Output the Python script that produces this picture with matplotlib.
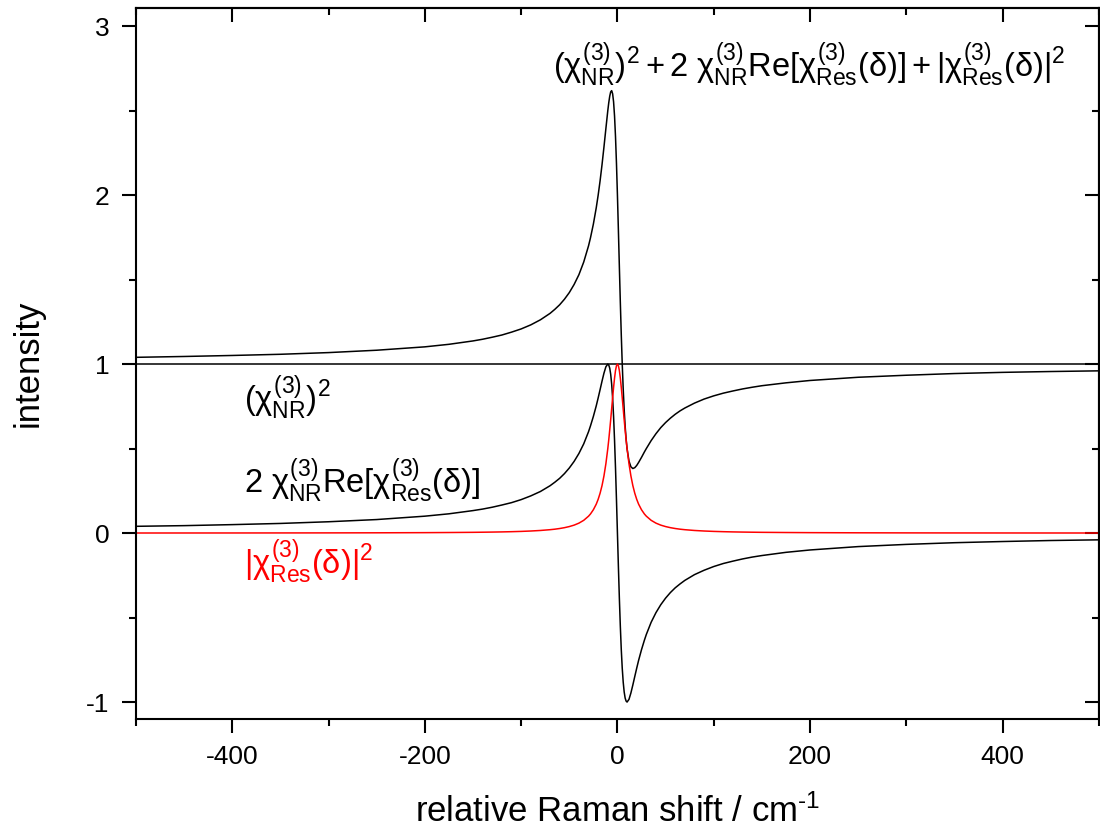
import numpy as np
import matplotlib
matplotlib.use("Agg")
import matplotlib.pyplot as plt
from matplotlib.ticker import MultipleLocator

# --- values ---
shift = [-500, -450, -400, -350, -300, -250, -200, -175, -150, -140, -130,
         -120, -110, -100, -90, -80, -70, -65, -60, -55, -50, -45, -40, -35,
         -30, -28, -25, -22, -20, -18, -16, -14, -12, -10, -9, -8, -7, -6,
         -5, -4, -3, -2, -1, 0, 1, 2, 3, 4, 5, 6, 7, 8, 9, 10, 12, 14, 16,
         18, 20, 22, 25, 28, 30, 35, 40, 45, 50, 55, 60, 65, 70, 80, 90, 100,
         110, 120, 130, 140, 150, 175, 200, 250, 300, 350, 400, 450, 500]

# |chi_Res(delta)|^2  (red)
res_sq = [0.0004, 0.0005, 0.0006, 0.0008, 0.0011, 0.0016, 0.0025, 0.0033,
          0.0044, 0.0051, 0.0059, 0.0069, 0.0082, 0.0099, 0.0122, 0.0154,
          0.020, 0.023, 0.027, 0.032, 0.0385, 0.047, 0.0588, 0.0755, 0.100,
          0.113, 0.138, 0.171, 0.200, 0.236, 0.281, 0.338, 0.410, 0.500,
          0.552, 0.610, 0.671, 0.735, 0.800, 0.862, 0.917, 0.962, 0.990,
          1.000,
          0.990, 0.962, 0.917, 0.862, 0.800, 0.735, 0.671, 0.610, 0.552,
          0.500, 0.410, 0.338, 0.281, 0.236, 0.200, 0.171, 0.138, 0.113,
          0.100, 0.0755, 0.0588, 0.047, 0.0385, 0.032, 0.027, 0.023, 0.020,
          0.0154, 0.0122, 0.0099, 0.0082, 0.0069, 0.0059, 0.0051, 0.0044,
          0.0033, 0.0025, 0.0016, 0.0011, 0.0008, 0.0006, 0.0005, 0.0004]

# 2 chi_NR Re[chi_Res(delta)]  (black, dispersive)
cross_term = [0.040, 0.044, 0.050, 0.057, 0.067, 0.080, 0.100, 0.114, 0.133,
              0.142, 0.153, 0.166, 0.180, 0.198, 0.220, 0.246, 0.280, 0.301,
              0.324, 0.352, 0.385, 0.424, 0.471, 0.528, 0.600, 0.634, 0.690,
              0.753, 0.800, 0.849, 0.899, 0.946, 0.984, 1.000, 0.994, 0.976,
              0.940, 0.882, 0.800, 0.690, 0.550, 0.385, 0.198,
              0.000,
              -0.198, -0.385, -0.550, -0.690, -0.800, -0.882, -0.940, -0.976,
              -0.994, -1.000, -0.984, -0.946, -0.899, -0.849, -0.800, -0.753,
              -0.690, -0.634, -0.600, -0.528, -0.471, -0.424, -0.385, -0.352,
              -0.324, -0.301, -0.280, -0.246, -0.220, -0.198, -0.180, -0.166,
              -0.153, -0.142, -0.133, -0.114, -0.100, -0.080, -0.067, -0.057,
              -0.050, -0.044, -0.040]

# total CARS signal (black)
total = [1.040, 1.045, 1.051, 1.058, 1.068, 1.082, 1.102, 1.117, 1.137, 1.147,
         1.159, 1.172, 1.189, 1.208, 1.232, 1.262, 1.300, 1.324, 1.351, 1.384,
         1.423, 1.471, 1.529, 1.604, 1.700, 1.747, 1.828, 1.925, 2.000, 2.085,
         2.180, 2.284, 2.393, 2.500, 2.547, 2.585, 2.611, 2.618, 2.600, 2.552,
         2.468, 2.346, 2.188,
         2.000,
         1.792, 1.577, 1.367, 1.172, 1.000, 0.853, 0.731, 0.634, 0.558, 0.500,
         0.426, 0.392, 0.382, 0.387, 0.400, 0.418, 0.448, 0.480, 0.500, 0.547,
         0.588, 0.624, 0.654, 0.680, 0.703, 0.723, 0.740, 0.769, 0.793, 0.812,
         0.828, 0.841, 0.853, 0.863, 0.872, 0.889, 0.903, 0.922, 0.934, 0.944,
         0.951, 0.956, 0.960]

# (chi_NR)^2  (flat line)
nr_x = [-500, 500]
nr_y = [1.0, 1.0]

assert len(shift) == len(res_sq) == len(cross_term) == len(total)

plt.rcParams['font.family'] = ['Liberation Sans', 'DejaVu Sans']
plt.rcParams['mathtext.fontset'] = 'custom'
plt.rcParams['mathtext.rm'] = 'Liberation Sans'
plt.rcParams['mathtext.it'] = 'Liberation Sans'
plt.rcParams['mathtext.bf'] = 'Liberation Sans:bold'
plt.rcParams['axes.unicode_minus'] = False

fig = plt.figure(figsize=(11, 8.36), dpi=100)
ax = fig.add_axes([0.1236, 0.140, 0.8754, 0.8504])

lw = 1.1
ax.plot(nr_x, nr_y, color='black', lw=lw)
ax.plot(shift, total, color='black', lw=lw)
ax.plot(shift, cross_term, color='black', lw=lw)
ax.plot(shift, res_sq, color='red', lw=lw)

ax.set_xlim(-500, 500)
ax.set_ylim(-1.1, 3.107)

# ticks: outward on bottom/left, mirrored inward on top/right
ax.xaxis.set_major_locator(MultipleLocator(200))
ax.xaxis.set_minor_locator(MultipleLocator(100))
ax.yaxis.set_major_locator(MultipleLocator(1))
ax.yaxis.set_minor_locator(MultipleLocator(0.5))
ax.tick_params(which='both', direction='out', width=1.5, labelsize=19, pad=9)
ax.tick_params(which='major', length=10)
ax.tick_params(which='minor', length=5)

for side in ['top', 'right']:
    if side == 'top':
        sec = ax.secondary_xaxis('top')
        sec.xaxis.set_major_locator(MultipleLocator(200))
        sec.xaxis.set_minor_locator(MultipleLocator(100))
        sec.tick_params(labeltop=False)
    else:
        sec = ax.secondary_yaxis('right')
        sec.yaxis.set_major_locator(MultipleLocator(1))
        sec.yaxis.set_minor_locator(MultipleLocator(0.5))
        sec.tick_params(labelright=False)
    sec.tick_params(which='both', direction='in', width=1.5)
    sec.tick_params(which='major', length=10)
    sec.tick_params(which='minor', length=5)
    for sp in sec.spines.values():
        sp.set_linewidth(1.5)

for sp in ax.spines.values():
    sp.set_linewidth(1.5)

ax.set_xlabel(r'relative Raman shift / cm$^{\text{-}1}$', fontsize=25, labelpad=18)
ax.set_ylabel('intensity', fontsize=25, labelpad=30)

# curve annotations
fs = 23.5
ax.text(199, 2.77,
        r'$(\chi^{(3)}_{\mathrm{NR}})^2 + 2\ \chi^{(3)}_{\mathrm{NR}}\mathrm{Re}[\chi^{(3)}_{\mathrm{Res}}(\delta)] + |\chi^{(3)}_{\mathrm{Res}}(\delta)|^2$',
        fontsize=fs, ha='center', va='center')
ax.text(-388, 0.80, r'$(\chi^{(3)}_{\mathrm{NR}})^2$', fontsize=fs, ha='left', va='center')
ax.text(-388, 0.31, r'$2\ \chi^{(3)}_{\mathrm{NR}}\mathrm{Re}[\chi^{(3)}_{\mathrm{Res}}(\delta)]$',
        fontsize=fs, ha='left', va='center')
ax.text(-388, -0.17, r'$|\chi^{(3)}_{\mathrm{Res}}(\delta)|^2$', fontsize=fs, ha='left',
        va='center', color='red')

fig.savefig('out.png', dpi=100)
